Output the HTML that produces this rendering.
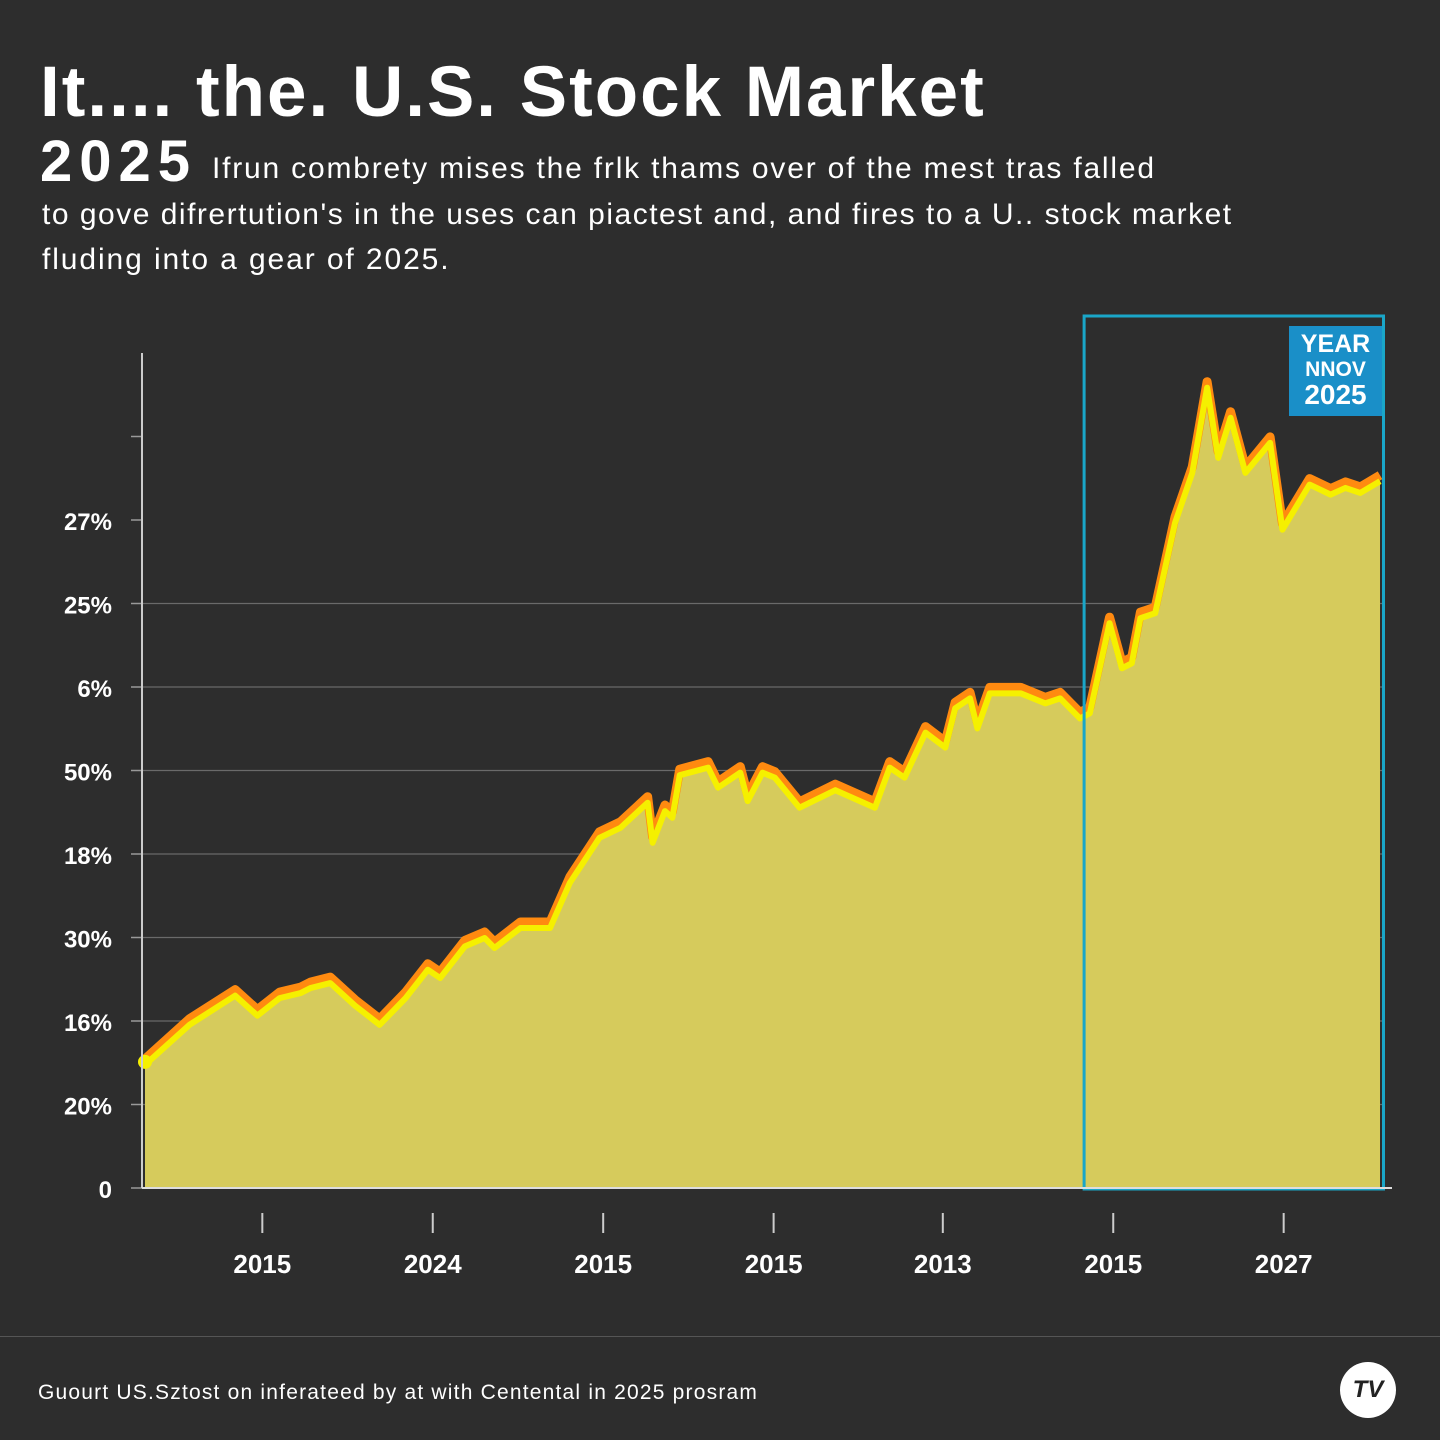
<!DOCTYPE html>
<html><head><meta charset="utf-8"><style>
body{margin:0;width:1440px;height:1440px;background:#2d2d2d;font-family:"Liberation Sans",sans-serif;color:#fff;overflow:hidden;position:relative}
.t{position:absolute;white-space:nowrap}
</style></head><body>
<div class="t" style="left:40px;top:52px;font-size:71px;font-weight:bold;letter-spacing:2px">It.... the. U.S. Stock Market</div>
<div class="t" style="left:40px;top:128px;font-size:58px;font-weight:bold;letter-spacing:7px">2025</div>
<div class="t" style="left:212px;top:152px;font-size:30px;letter-spacing:1.8px">Ifrun combrety mises the frlk thams over of the mest tras falled</div>
<div class="t" style="left:42px;top:198px;font-size:30px;letter-spacing:1.5px">to gove difrertution's in the uses can piactest and, and fires to a U.. stock market</div>
<div class="t" style="left:42px;top:243px;font-size:30px;letter-spacing:1.9px">fluding into a gear of 2025.</div>
<svg id="c" width="1440" height="1440" style="position:absolute;left:0;top:0"></svg>
<div class="t" style="left:1289px;top:326px;width:93px;height:90px;background:#1a8fc8;text-align:center;font-weight:bold;line-height:1">
<div style="font-size:25px;margin-top:6px">YEAR</div><div style="font-size:21px;margin-top:2px">NNOV</div><div style="font-size:28px;margin-top:1px">2025</div></div>
<div style="position:absolute;left:0;top:1336px;width:1440px;height:1px;background:#555"></div>
<div class="t" style="left:38px;top:1381px;font-size:21px;letter-spacing:1.2px">Guourt US.Sztost on inferateed by at with Centental in 2025 prosram</div>
<div style="position:absolute;left:1340px;top:1362px;width:56px;height:56px;border-radius:50%;background:#fff;color:#222;font-weight:bold;font-style:italic;font-size:24px;text-align:center;line-height:56px">TV</div>
<script>
const times=[0,3.6,7.3,9.1,10.9,12.6,13.4,15.0,17.0,19.0,21.1,22.9,23.9,25.9,27.5,28.3,30.4,32.8,34.4,36.8,38.5,40.7,41.1,42.1,42.7,43.3,45.6,46.4,48.2,48.8,50.0,51.0,53.0,55.9,59.1,60.3,61.5,63.2,64.8,65.6,66.8,67.4,68.4,70.9,72.9,74.1,75.7,76.5,78.1,79.1,79.9,80.6,81.8,83.4,84.8,86.0,86.9,87.9,89.1,91.1,92.1,94.3,96.0,97.2,98.4,100];
const values=[1.51,1.99,2.34,2.10,2.31,2.37,2.43,2.49,2.22,1.99,2.31,2.65,2.55,2.93,3.03,2.91,3.15,3.15,3.69,4.23,4.35,4.65,4.17,4.55,4.47,4.98,5.07,4.83,5.01,4.67,5.01,4.95,4.59,4.80,4.59,5.07,4.95,5.49,5.31,5.78,5.90,5.54,5.96,5.96,5.84,5.90,5.66,5.72,6.80,6.26,6.32,6.86,6.92,8.00,8.60,9.62,8.78,9.26,8.60,8.96,7.92,8.46,8.34,8.42,8.36,8.50];
const yTickLabels=["0","20%","16%","30%","18%","50%","6%","25%","27%"];
const xTickLabels=["2015","2024","2015","2015","2013","2015","2027"];
const xTickPos=[9.5,23.3,37.1,50.9,64.6,78.4,92.2];
const highlightStart=76.0;
const X0=145,X1=1380,Y0=1188,Y1=353;
const sx=t=>X0+(X1-X0)*t/100;
const sy=v=>Y0-(Y0-Y1)*v/10;
const svg=document.getElementById('c');const NS='http://www.w3.org/2000/svg';
function mk(tag,a){const e=document.createElementNS(NS,tag);for(const k in a)e.setAttribute(k,a[k]);svg.appendChild(e);return e;}
for(let i=0;i<=9;i++){const y=sy(i*1.0);
 if(i>=1&&i<=7){const g=mk('line',{x1:142,x2:1385,y1:y,y2:y,stroke:'#6a6a6a','stroke-width':1.2});}
 const tk=mk('line',{x1:131,x2:142,y1:y,y2:y,stroke:'#999','stroke-width':1.5});}
yTickLabels.forEach((l,i)=>{const t=mk('text',{x:112,y:sy(i)+10,'text-anchor':'end',fill:'#fff','font-size':24,'font-weight':'bold','font-family':'Liberation Sans'});t.textContent=l;
});
let d='M'+sx(times[0])+','+sy(values[0]);times.forEach((t,i)=>{if(i)d+='L'+sx(t)+','+sy(values[i]);});
const area=mk('path',{d:d+'L'+sx(100)+','+Y0+'L'+sx(0)+','+Y0+'Z',fill:'#d6cb5c'});

const ol=mk('path',{d:d,fill:'none',stroke:'#ff8a10','stroke-width':9,'stroke-linejoin':'round',transform:'translate(0,-3)'});

const yl=mk('path',{d:d,fill:'none',stroke:'#f5f000','stroke-width':6,'stroke-linejoin':'round',transform:'translate(0,3)'});

const dot=mk('circle',{cx:sx(times[0]),cy:sy(values[0]),r:7,fill:'#f5f000'});

const hl=mk('rect',{x:sx(highlightStart)+0.5,y:316,width:1383-sx(highlightStart),height:Y0+1-316,fill:'none',stroke:'#1aa6c8','stroke-width':3});

const ya=mk('line',{x1:142,x2:142,y1:353,y2:Y0,stroke:'#ccc','stroke-width':2});
const xa=mk('line',{x1:142,x2:1392,y1:Y0,y2:Y0,stroke:'#ddd','stroke-width':2});
xTickLabels.forEach((l,i)=>{const x=sx(xTickPos[i]);
 const tk=mk('line',{x1:x,x2:x,y1:1213,y2:1233,stroke:'#ccc','stroke-width':2});
 const t=mk('text',{x:x,y:1273,'text-anchor':'middle',fill:'#fff','font-size':26,'font-weight':'bold','font-family':'Liberation Sans'});t.textContent=l;
 });
</script>
</body></html>
